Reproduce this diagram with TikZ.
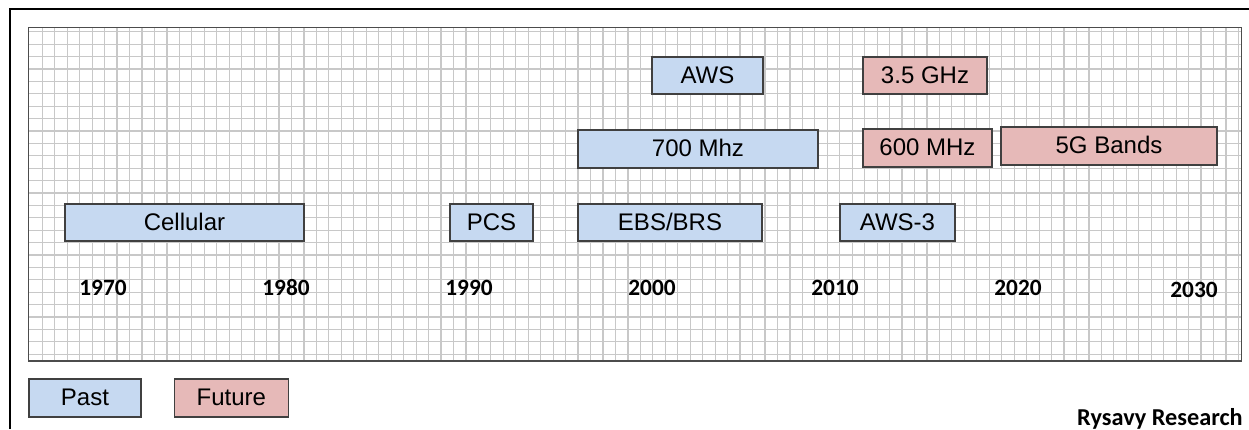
\documentclass[tikz,border=0pt]{standalone}
\usepackage{fontspec}
\setmainfont{Liberation Sans}
\newfontfamily\yearfont{Carlito}
\usetikzlibrary{positioning}
\definecolor{pastblue}{RGB}{198,217,241}
\definecolor{futurepink}{RGB}{230,185,184}
\definecolor{gridgray}{RGB}{200,200,200}
\tikzset{x=0.75pt, y=-0.75pt,
wd/.style={minimum width=#1*0.75pt}, % box width in pixels
ht/.style={minimum height=#1*0.75pt},
band/.style={ % Sets the properties for each band box
draw=black!75,
line width=1pt,
inner sep=0pt,
text height=12.9pt,
text depth=1.5pt,
ht=37,
font=\fontsize{18}{20}\selectfont},
past/.style={band, fill=pastblue},
future/.style={band, fill=futurepink},
year/.style={anchor=base, font=\yearfont\bfseries\fontsize{17.5}{20}\selectfont},
gridline/.style={draw=gridgray, line width=0.9pt}}

\begin{document}
\begin{tikzpicture}
	\useasboundingbox (0,0) rectangle (1249,429);
	\draw[line width=1.5pt] (10,429) -- (10,9) -- (1249,9);
	\foreach \i in {0,...,96}
		\draw[gridline] ({42.3+12.46*\i},27.5) -- ({42.3+12.46*\i},361);
	\foreach \j in {0,...,26}
		\draw[gridline] (28.5,{31.7+12.4*\j}) -- (1241.5,{31.7+12.4*\j});
	\draw[draw=black!70, line width=1.2pt] (28.5,27.5) rectangle (1241.5,361);
	\node[past, wd=239] (cellular) at (184.5,222.5) {Cellular};
	\node[past, wd=83] (pcs) at (491.5,222.5) {PCS};
	\node[past, wd=184] (ebsbrs) at (670,222.5) {EBS/BRS};
	\node[past, wd=115] (aws3) at (897.5,222.5) {AWS-3};
	\node[past, wd=240, ht=38] (mhz700) at (698,149) {700 Mhz};
	\node[past, wd=111] (aws) at (707.5,75.5) {AWS};
	\node[future, wd=129, ht=38] (mhz600) at (927.5,148) {600 MHz};
	\node[future, wd=216, ht=38] (bands5g) at (1109,146) {5G Bands};
	\node[future, wd=124] (ghz35) at (925,75.5) {3.5 GHz};
	\foreach \y [count=\i from 0] in {1970,1980,1990,2000,2010,2020}
		\node[year] (y\y) at ({103+183*\i},295) {\y};
	\node[year] (y2030) at (1194,297) {2030};
	\node[past, wd=112, ht=38] (legpast) at (85,398) {Past};
	\node[future, wd=114, ht=38, right=24pt of legpast] (legfuture) {Future};
	\node[anchor=base east, inner sep=0pt, font=\yearfont\bfseries\fontsize{18.2}{20}\selectfont] (credit) at (1243,425) {Rysavy Research};
\end{tikzpicture}
\end{document}
